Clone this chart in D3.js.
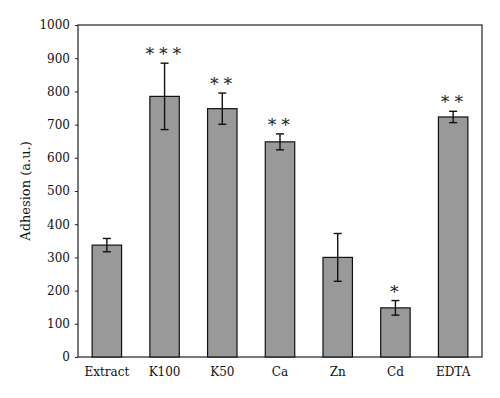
<!DOCTYPE html>
<html>
<head>
<meta charset="utf-8">
<script src="https://cdn.jsdelivr.net/npm/d3@7"></script>
<style>
  body { margin: 0; background: #fff; }
  text { font-family: "DejaVu Serif", "Liberation Serif", serif; fill: #111; }
</style>
</head>
<body>
<div id="chart"></div>
<script>
var categories = ["Extract", "K100", "K50", "Ca", "Zn", "Cd", "EDTA"];
var adhesion = [337, 785, 748, 648, 300, 148, 723];
var errors = [20, 100, 47, 24, 72, 22, 17];
var stars = ["", "***", "**", "**", "", "*", "**"];
var yTicks = [0, 100, 200, 300, 400, 500, 600, 700, 800, 900, 1000];

var width = 500, height = 398;
var margin = {top: 25, right: 18, bottom: 41, left: 78};
var w = width - margin.left - margin.right,
    h = height - margin.top - margin.bottom;

var svg = d3.select("#chart").append("svg")
    .attr("width", width)
    .attr("height", height);

var g = svg.append("g")
    .attr("transform", "translate(" + margin.left + "," + margin.top + ")");

var x = d3.scaleBand()
    .domain(categories)
    .range([0, w])
    .paddingInner(0.49)
    .paddingOuter(0.245);

var y = d3.scaleLinear()
    .domain([0, 1000])
    .range([h, 0]);

var data = categories.map(function (c, i) {
    return {name: c, v: adhesion[i], e: errors[i], s: stars[i]};
});

// frame
g.append("rect")
    .attr("x", 0).attr("y", 0)
    .attr("width", w).attr("height", h)
    .attr("fill", "none")
    .attr("stroke", "#222")
    .attr("stroke-width", 1.2);

// bars
g.selectAll(".bar")
    .data(data)
    .enter()
    .append("rect")
    .attr("class", "bar")
    .attr("x", function (d) { return x(d.name); })
    .attr("y", function (d) { return y(d.v); })
    .attr("width", x.bandwidth())
    .attr("height", function (d) { return h - y(d.v); })
    .attr("fill", "#999999")
    .attr("stroke", "#111")
    .attr("stroke-width", 1.2);

// error bars
var eb = g.selectAll(".err")
    .data(data)
    .enter()
    .append("g")
    .attr("class", "err")
    .attr("stroke", "#111")
    .attr("stroke-width", 1.4);

eb.append("line")
    .attr("x1", function (d) { return x(d.name) + x.bandwidth() / 2; })
    .attr("x2", function (d) { return x(d.name) + x.bandwidth() / 2; })
    .attr("y1", function (d) { return y(d.v - d.e); })
    .attr("y2", function (d) { return y(d.v + d.e); });

[-1, 1].forEach(function (sgn) {
    eb.append("line")
        .attr("x1", function (d) { return x(d.name) + x.bandwidth() / 2 - 4; })
        .attr("x2", function (d) { return x(d.name) + x.bandwidth() / 2 + 4; })
        .attr("y1", function (d) { return y(d.v + sgn * d.e); })
        .attr("y2", function (d) { return y(d.v + sgn * d.e); });
});

// significance stars
g.selectAll(".star")
    .data(data.filter(function (d) { return d.s; }))
    .enter()
    .append("text")
    .attr("class", "star")
    .attr("x", function (d) { return x(d.name) + x.bandwidth() / 2; })
    .attr("y", function (d) { return y(d.v + d.e) - 7; })
    .attr("text-anchor", "middle")
    .style("font-size", "17px")
    .style("letter-spacing", "2px")
    .style("fill", "#222")
    .text(function (d) { return d.s.replace(/\*/g, "\u2217"); });

// y axis
var yAxis = g.append("g")
    .call(d3.axisLeft(y).tickValues(yTicks).tickFormat(d3.format("d")).tickSize(3).tickPadding(5));
yAxis.select(".domain").remove();
yAxis.selectAll("line").attr("stroke", "#222");
yAxis.selectAll("text")
    .style("font-family", "'DejaVu Serif', serif")
    .style("font-size", "12px")
    .attr("fill", "#111");

// x axis
var xAxis = g.append("g")
    .attr("transform", "translate(0," + h + ")")
    .call(d3.axisBottom(x).tickSize(0).tickPadding(10));
xAxis.select(".domain").remove();
xAxis.selectAll("text")
    .style("font-family", "'DejaVu Serif', serif")
    .style("font-size", "12px")
    .attr("fill", "#111");

// y label
svg.append("text")
    .attr("transform", "translate(30," + (margin.top + h / 2) + ") rotate(-90)")
    .attr("text-anchor", "middle")
    .style("font-size", "13px")
    .text("Adhesion (a.u.)");
</script>
</body>
</html>
